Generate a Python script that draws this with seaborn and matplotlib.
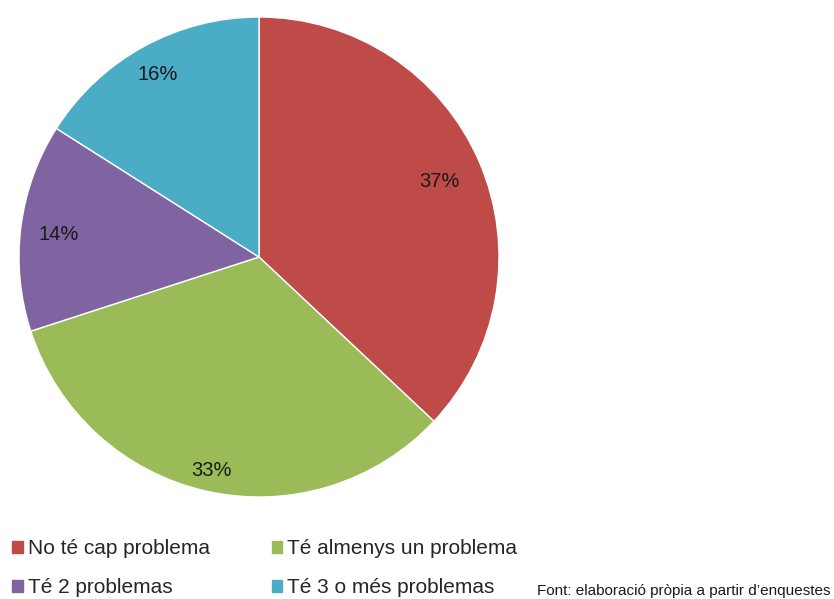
import matplotlib
matplotlib.use("Agg")
import matplotlib.pyplot as plt
import matplotlib.patches as mpatches
import numpy as np
import seaborn as sns

categories = ["No té cap problema", "Té almenys un problema", "Té 2 problemas", "Té 3 o més problemas"]
shares = [37, 33, 14, 16]
colors = ["#BE4B48", "#9BBB59", "#8064A2", "#4BACC6"]
source_note = "Font: elaboració pròpia a partir d\u2019enquestes"

sns.set_theme(style="white")
plt.rcParams["font.family"] = ["Liberation Sans", "DejaVu Sans"]
palette = sns.color_palette(colors)

fig = plt.figure(figsize=(8.34, 5.99), dpi=100)
ax = fig.add_axes([19 / 834, 102 / 599, 480 / 834, 480 / 599])

wedges, _ = ax.pie(shares, colors=palette, startangle=90, counterclock=False,
                   radius=1.0, wedgeprops=dict(edgecolor="white", linewidth=1.0))
ax.set_aspect("equal")
ax.set_xlim(-1, 1)
ax.set_ylim(-1, 1)

# label distances tuned per slice to mimic the original placement
label_r = [0.82, 0.90, 0.84, 0.88]
for w, v, r in zip(wedges, shares, label_r):
    ang = np.deg2rad((w.theta1 + w.theta2) / 2)
    ax.text(r * np.cos(ang), r * np.sin(ang) - 0.01, f"{v}%", ha="center", va="center",
            fontsize=14.5, color="#1a1a1a")

handles = [mpatches.Patch(color=c, label=l) for c, l in zip(palette, categories)]
order = [0, 2, 1, 3]
fig.legend([handles[i] for i in order], [categories[i] for i in order],
           loc="upper left", bbox_to_anchor=(-0.005, 0.128), ncol=2, frameon=False,
           fontsize=15, handlelength=0.5, handleheight=0.5, handletextpad=0.25,
           columnspacing=2.95, labelspacing=0.98, borderpad=0.3)

fig.text(537 / 834, 1 / 599, source_note, fontsize=11, ha="left", va="bottom",
         color="#1a1a1a")

fig.savefig("out.png", dpi=100)
